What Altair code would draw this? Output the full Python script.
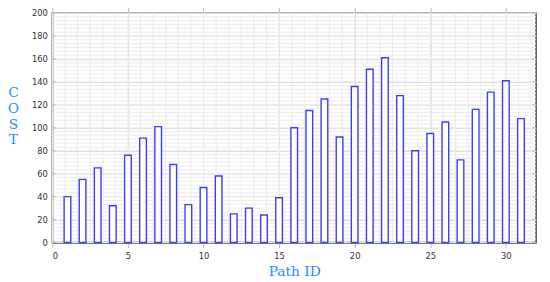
import altair as alt
import pandas as pd

path_ids = list(range(1, 32))
costs = [40, 55, 65, 32, 76, 91, 101, 68, 33, 48, 58, 25, 30, 24, 39,
         100, 115, 125, 92, 136, 151, 161, 128, 80, 95, 105, 72, 116, 131, 141, 108]

x_major = [0, 5, 10, 15, 20, 25, 30]
y_major = [0, 20, 40, 60, 80, 100, 120, 140, 160, 180, 200]
x_minor = [i * 5 / 6 for i in range(0, 39)]
y_minor = [i * 20 / 6 for i in range(0, 61)]

df = pd.DataFrame({"id": path_ids, "cost": costs, "base": [0] * len(path_ids)})
xs = alt.Scale(domain=[0, 32], nice=False, zero=False)
ys = alt.Scale(domain=[0, 200], nice=False)

BLUE = "#1e90ff"
H = 233
W = 491

minor_x = alt.Chart(pd.DataFrame({"v": x_minor})).mark_rule(color="#ececec", strokeWidth=1).encode(
    x=alt.X("v:Q", scale=xs, axis=None))
minor_y = alt.Chart(pd.DataFrame({"v": y_minor})).mark_rule(color="#ececec", strokeWidth=1).encode(
    y=alt.Y("v:Q", scale=ys, axis=None))

bars = alt.Chart(df).transform_calculate(
    x1="datum.id - 0.22", x2="datum.id + 0.22"
).mark_bar(fill="white", stroke="#3c3cff", strokeWidth=1.4).encode(
    x=alt.X("x1:Q", scale=xs,
            axis=alt.Axis(values=x_major, title="Path ID", titleFont="DejaVu Serif",
                          titleFontSize=14, titleFontWeight="normal", titleColor=BLUE,
                          titleBaseline="top", titleY=22,
                          labelFont="DejaVu Sans", labelFontSize=8.5, labelColor="#333",
                          labelPadding=4, tickSize=5, tickColor="#bbb",
                          domainColor="#777", domainWidth=2,
                          grid=True, gridColor="#d8d8d8", format="d")),
    x2="x2:Q",
    y=alt.Y("cost:Q", scale=ys,
            axis=alt.Axis(values=y_major, title=["C", "O", "S", "T"], titleAngle=0,
                          titleFont="DejaVu Serif", titleFontSize=14, titleFontWeight="normal",
                          titleColor=BLUE, titleAlign="center", titleBaseline="top",
                          titleX=-40, titleY=74, titleLineHeight=16,
                          labelFont="DejaVu Sans", labelFontSize=8.5, labelColor="#333",
                          labelPadding=5, tickSize=0, domainColor="#888",
                          grid=True, gridColor="#d8d8d8")),
    y2="base:Q",
)

top_axis = alt.Chart(pd.DataFrame({"v": x_major})).mark_rule(opacity=0).encode(
    x=alt.X("v:Q", scale=xs,
            axis=alt.Axis(orient="top", values=x_major, labels=False, title=None,
                          tickSize=6, tickColor="#bbb", domain=False, grid=False)))

y_ticks_left = alt.Chart(pd.DataFrame({"v": y_major})).mark_rule(color="#bbb").encode(
    x=alt.value(0), x2=alt.value(4), y=alt.Y("v:Q", scale=ys, axis=None))
y_ticks_right = alt.Chart(pd.DataFrame({"v": y_major})).mark_rule(color="#bbb").encode(
    x=alt.value(W - 4), x2=alt.value(W), y=alt.Y("v:Q", scale=ys, axis=None))

chart = alt.layer(minor_x, minor_y, bars, top_axis, y_ticks_left, y_ticks_right).resolve_axis(
    x="independent", y="independent"
).properties(
    width=W, height=H,
    autosize=alt.AutoSizeParams(type="none"),
    padding={"left": 45, "top": 3, "right": 6, "bottom": 38},
).configure_view(stroke="#444", strokeWidth=1.5)

chart.save("out.html", embed_options={"renderer": "svg", "actions": False})
